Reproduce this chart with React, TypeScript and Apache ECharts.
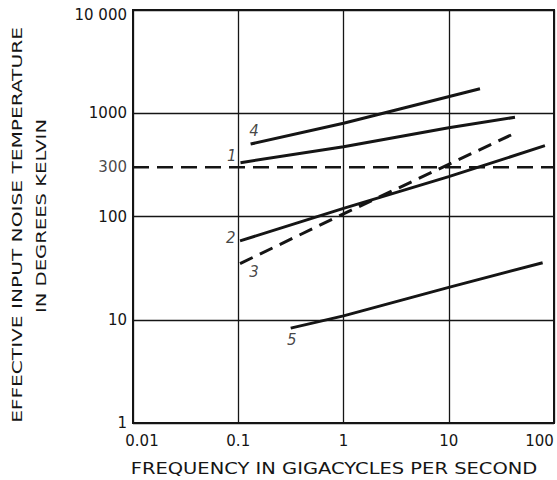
import React, { useEffect, useRef } from "react";
import * as echarts from "echarts";

// Curves: [frequency (GHz), effective noise temperature (K)]
const curve1: number[][] = [[0.105, 332], [1, 474], [10, 725], [42.6, 914]];
const curve2: number[][] = [[0.104, 58], [1, 120], [10, 243], [82, 485]];
const curve3: number[][] = [[0.104, 35], [1, 106], [41, 630]];
const curve4: number[][] = [[0.131, 503], [1, 800], [19.8, 1730]];
const curve5: number[][] = [[0.315, 8.3], [1, 10.9], [10, 20.6], [78, 35.7]];
const roomTempLevel = 300;
const roomTemp: number[][] = [[0.01, roomTempLevel], [100, roomTempLevel]];

const curveNames = ["1", "2", "3", "4", "5"];
const curveLabelX = [0.087, 0.085, 0.141, 0.141, 0.322];
const curveLabelY = [388, 61.5, 29.2, 678, 6.37];

const yTickText: Record<string, string> = {
  "1": "1",
  "10": "10",
  "100": "100",
  "1000": "1000",
  "10000": "{top|10 000}",
};
const xTickText: Record<string, string> = {
  "0.01": "{first|0.01}",
  "0.1": "0.1",
  "1": "1",
  "10": "10",
  "100": "{last|100}",
};

const xTitle = "FREQUENCY IN GIGACYCLES PER SECOND";
const yTitle1 = "EFFECTIVE INPUT NOISE TEMPERATURE";
const yTitle2 = "IN DEGREES KELVIN";

const INK = "#151515";
const FONT = "DejaVu Sans";

export default function App() {
  const ref = useRef<HTMLDivElement>(null);
  useEffect(() => {
    if (!ref.current) return;
    const chart = echarts.init(ref.current, null, { renderer: "svg" });
    const solid = (data: number[][]) => ({
      type: "line",
      data,
      showSymbol: false,
      symbol: "none",
      lineStyle: { color: INK, width: 3 },
      z: 5,
    });
    const tickFont = { color: INK, fontFamily: FONT, fontSize: 15 };
    chart.setOption({
      animation: false,
      backgroundColor: "#ffffff",
      grid: {
        left: 133,
        right: 3,
        top: 10,
        bottom: 57,
        show: true,
        borderColor: INK,
        borderWidth: 2,
        backgroundColor: "transparent",
      },
      xAxis: {
        type: "log",
        logBase: 10,
        min: 0.01,
        max: 100,
        axisLine: { show: false },
        axisTick: { show: false },
        splitLine: { show: true, lineStyle: { color: INK, width: 1.3 } },
        axisLabel: {
          ...tickFont,
          margin: 10,
          formatter: (v: number) => xTickText[String(+v.toPrecision(3))] ?? "",
          rich: {
            first: { ...tickFont, padding: [0, 0, 0, 18] },
            last: { ...tickFont, padding: [0, 29, 0, 0] },
          },
        },
      },
      yAxis: {
        type: "log",
        logBase: 10,
        min: 1,
        max: 10000,
        axisLine: { show: false },
        axisTick: { show: false },
        splitLine: { show: true, lineStyle: { color: INK, width: 1.3 } },
        axisLabel: {
          ...tickFont,
          margin: 6,
          formatter: (v: number) => yTickText[String(Math.round(v))] ?? "",
          rich: {
            top: { ...tickFont, padding: [10, 0, 0, 0] },
          },
        },
      },
      series: [
        {
          type: "line",
          data: roomTemp,
          showSymbol: false,
          symbol: "none",
          lineStyle: { color: INK, width: 2.5, type: [16, 8] },
          z: 4,
        },
        {
          type: "scatter",
          symbolSize: 0,
          data: [[roomTemp[0][0], roomTemp[0][1]]],
          label: {
            show: true,
            position: "left",
            distance: 6,
            formatter: String(roomTempLevel),
            ...tickFont,
          },
          z: 6,
        },
        solid(curve1),
        solid(curve2),
        {
          type: "line",
          data: curve3,
          showSymbol: false,
          symbol: "none",
          lineStyle: { color: INK, width: 3, type: [14, 8] },
          z: 5,
        },
        solid(curve4),
        solid(curve5),
        {
          type: "scatter",
          symbolSize: 0,
          data: curveNames.map((n, i) => ({ value: [curveLabelX[i], curveLabelY[i]], name: n })),
          label: {
            show: true,
            position: "inside",
            formatter: (p: any) => p.name,
            color: INK,
            fontFamily: FONT,
            fontStyle: "italic",
            fontSize: 15,
          },
          z: 6,
        },
      ],
      graphic: [
        {
          type: "text",
          x: 334,
          y: 469,
          scaleX: 1.3,
          style: {
            text: xTitle,
            fill: INK,
            font: `15px "${FONT}"`,
            align: "center",
            verticalAlign: "middle",
          },
        },
        {
          type: "text",
          x: 17,
          y: 225,
          rotation: Math.PI / 2,
          scaleX: 1.44,
          style: {
            text: yTitle1,
            fill: INK,
            font: `14px "${FONT}"`,
            align: "center",
            verticalAlign: "middle",
          },
        },
        {
          type: "text",
          x: 41,
          y: 216,
          rotation: Math.PI / 2,
          scaleX: 1.4,
          style: {
            text: yTitle2,
            fill: INK,
            font: `14px "${FONT}"`,
            align: "center",
            verticalAlign: "middle",
          },
        },
      ],
    });
    return () => chart.dispose();
  }, []);
  return (
    <div
      ref={ref}
      style={{ position: "fixed", left: 0, top: 0, width: 557, height: 480, overflow: "hidden" }}
    />
  );
}
